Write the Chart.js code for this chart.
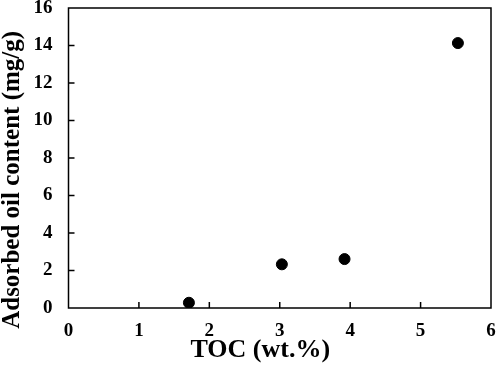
<!DOCTYPE html>
<html lang="en">
<head>
  <meta charset="UTF-8" />
  <title>Adsorbed oil content vs TOC</title>
  <script src="https://cdn.jsdelivr.net/npm/chart.js"></script>
  <style>
    body { margin: 0; background: #fff; }
    #chart-container { width: 498px; height: 366px; }
  </style>
</head>
<body>
  <div id="chart-container">
    <canvas id="tocChart"></canvas>
  </div>
  <script>
    // values
    const tocValues = [1.71, 3.03, 3.92, 5.53];
    const oilValues = [0.28, 2.33, 2.61, 14.13];
    const xTicks = [0, 1, 2, 3, 4, 5, 6];
    const yTicks = [0, 2, 4, 6, 8, 10, 12, 14, 16];

    const serif = "'Liberation Serif', 'Times New Roman', serif";
    const pad = "\u00a0";

    // drop the label-overflow padding so layout.padding alone sets the plot box
    const noOverflow = s => {
      s.paddingTop = 0;
      s.paddingBottom = 0;
      s.paddingLeft = 0;
      s.paddingRight = 0;
    };

    // frame plus inward tick marks
    const frameTicks = {
      id: "frameTicks",
      afterDraw(chart) {
        const { ctx, chartArea: a, scales } = chart;
        ctx.save();
        ctx.strokeStyle = "#000";
        ctx.lineWidth = 1.5;
        ctx.strokeRect(a.left, a.top, a.right - a.left, a.bottom - a.top);
        ctx.beginPath();
        xTicks.slice(1, -1).forEach(v => {
          const px = scales.x.getPixelForValue(v);
          ctx.moveTo(px, a.bottom);
          ctx.lineTo(px, a.bottom - 6);
        });
        yTicks.slice(1, -1).forEach(v => {
          const py = scales.y.getPixelForValue(v);
          ctx.moveTo(a.left, py);
          ctx.lineTo(a.left + 6, py);
        });
        ctx.stroke();
        ctx.restore();
      }
    };

    const ctx = document.getElementById("tocChart").getContext("2d");

    new Chart(ctx, {
      type: "scatter",
      data: {
        datasets: [{
          label: "Adsorbed oil",
          data: tocValues.map((x, i) => ({ x: x, y: oilValues[i] })),
          backgroundColor: "#000",
          borderColor: "#000",
          pointRadius: 5.5,
          pointHoverRadius: 5.5
        }]
      },
      options: {
        responsive: true,
        maintainAspectRatio: false,
        animation: false,
        layout: { padding: { top: 8, right: 7, left: 0, bottom: 0 } },
        plugins: {
          legend: { display: false },
          tooltip: { enabled: false }
        },
        scales: {
          x: {
            type: "linear",
            min: 0,
            max: 6,
            afterBuildTicks: s => { s.ticks = xTicks.map(v => ({ value: v })); },
            afterFit: s => { s.height = 58; noOverflow(s); },
            grid: { display: false, drawTicks: false },
            border: { display: false },
            ticks: {
              padding: 14,
              color: "#000",
              font: { family: serif, size: 19, weight: "bold", lineHeight: 1 }
            },
            title: {
              display: true,
              text: "TOC (wt.%)" + pad.repeat(6),
              color: "#000",
              padding: { top: 0, bottom: 3 },
              font: { family: serif, size: 26, weight: "bold", lineHeight: 1 }
            }
          },
          y: {
            type: "linear",
            min: 0,
            max: 16,
            afterBuildTicks: s => { s.ticks = yTicks.map(v => ({ value: v })); },
            afterFit: s => { s.width = 68.5; noOverflow(s); },
            grid: { display: false, drawTicks: false },
            border: { display: false },
            ticks: {
              padding: 16,
              color: "#000",
              font: { family: serif, size: 19, weight: "bold", lineHeight: 1 }
            },
            title: {
              display: true,
              text: "Adsorbed oil content (mg/g)" + pad.repeat(7),
              color: "#000",
              padding: { top: 0, bottom: 0 },
              font: { family: serif, size: 25, weight: "bold", lineHeight: 1 }
            }
          }
        }
      },
      plugins: [frameTicks]
    });
  </script>
</body>
</html>
